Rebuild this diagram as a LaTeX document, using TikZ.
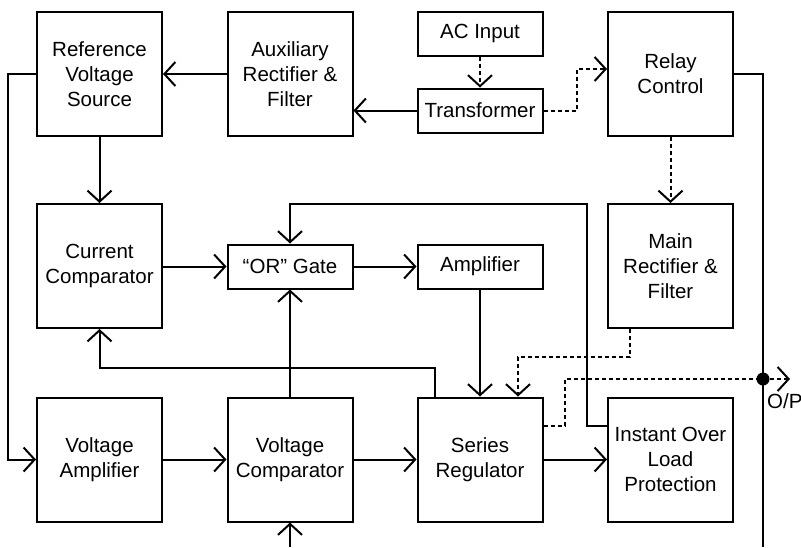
\documentclass[tikz,border=0pt]{standalone}
\usepackage{fontspec}
\setmainfont{Liberation Sans}
\usetikzlibrary{arrows.meta,calc}
\begin{document}
\begin{tikzpicture}[x=1pt,y=-1pt,
  every node/.style={font=\fontsize{20.5}{25}\selectfont},
  box/.style={draw,line width=2pt,minimum width=125pt,minimum height=124pt,align=center,inner sep=0pt},
  sbox/.style={box,minimum height=44pt},
  wire/.style={line width=2pt},
  arr/.style={wire,-{Straight Barb[length=11pt,width=24pt]}},
  dotarr/.style={arr,dash pattern=on 4pt off 3pt}]
\useasboundingbox (0,0) rectangle (801,547);
% blocks
\node[box] (refvs) at (99.5,74) {Reference\\Voltage\\Source};
\node[box] (aux) at (290,74) {Auxiliary\\Rectifier \&\\Filter};
\node[sbox] (ac) at (480,33.5) {AC Input};
\node[sbox] (tr) at (480,110.5) {Transformer};
\node[box] (relay) at (670.5,74) {Relay\\Control};
\node[box] (cc) at (99.5,266) {Current\\Comparator};
\node[sbox] (or) at (290,266.5) {“OR” Gate};
\node[sbox] (amp) at (480,266.5) {Amplifier};
\node[box] (main) at (670.5,266) {Main\\Rectifier \&\\Filter};
\node[box] (va) at (99.5,459.5) {Voltage\\Amplifier};
\node[box] (vc) at (290,459.5) {Voltage\\Comparator};
\node[box] (sr) at (480,459.5) {Series\\Regulator};
\node[box] (iolp) at (670.5,459.5) {Instant Over\\Load\\Protection};
% free ends
\coordinate (bb) at (0,547);
\coordinate (op) at (790,379);
\coordinate (jn) at (763,379);
\coordinate (rbot) at (763,547);
% connectors
\draw[arr] (aux.west) -- (refvs.east);
\draw[arr] (refvs.west) -- ++(-28,0) |- (va.west);
\draw[arr] (refvs.south) -- (cc.north);
\draw[arr] (tr.west) -- (aux.east |- tr.west);
\draw[dotarr] (ac.south) -- (tr.north);
\draw[dotarr] (tr.east) -- ++(33,0) |- ($(relay.west)+(0,-5)$);
\draw[dotarr] (relay.south) -- (main.north);
\draw[wire] (relay.east) -| (rbot);
\draw[arr] (cc.east |- or.west) -- (or.west);
\draw[arr] (or.east) -- (amp.west);
\draw[arr] (amp.south) -- (sr.north);
\draw[arr] (vc.north) -- (or.south);
\draw[arr] ($(iolp.north west)+(0,29)$) -| (587,204) -| (or.north);
\draw[arr] ($(sr.north west)+(18.5,0)$) -- ++(0,-28.5) -| (cc.south);
\draw[dotarr] ($(main.south west)+(23,0)$) -- ++(0,28) -| ($(sr.north)+(38,0)$);
\draw[dotarr] ($(sr.north east)+(0,29)$) -- ++(21,0) |- (op);
\fill (jn) circle (6.5pt);
\node[anchor=west,inner sep=0pt] (oplabel) at (767,401) {O/P};
\draw[arr] (va.east) -- (vc.west);
\draw[arr] (vc.east) -- (sr.west);
\draw[arr] (sr.east) -- (iolp.west);
\draw[arr] (vc.south |- bb) -- (vc.south);
\end{tikzpicture}
\end{document}
